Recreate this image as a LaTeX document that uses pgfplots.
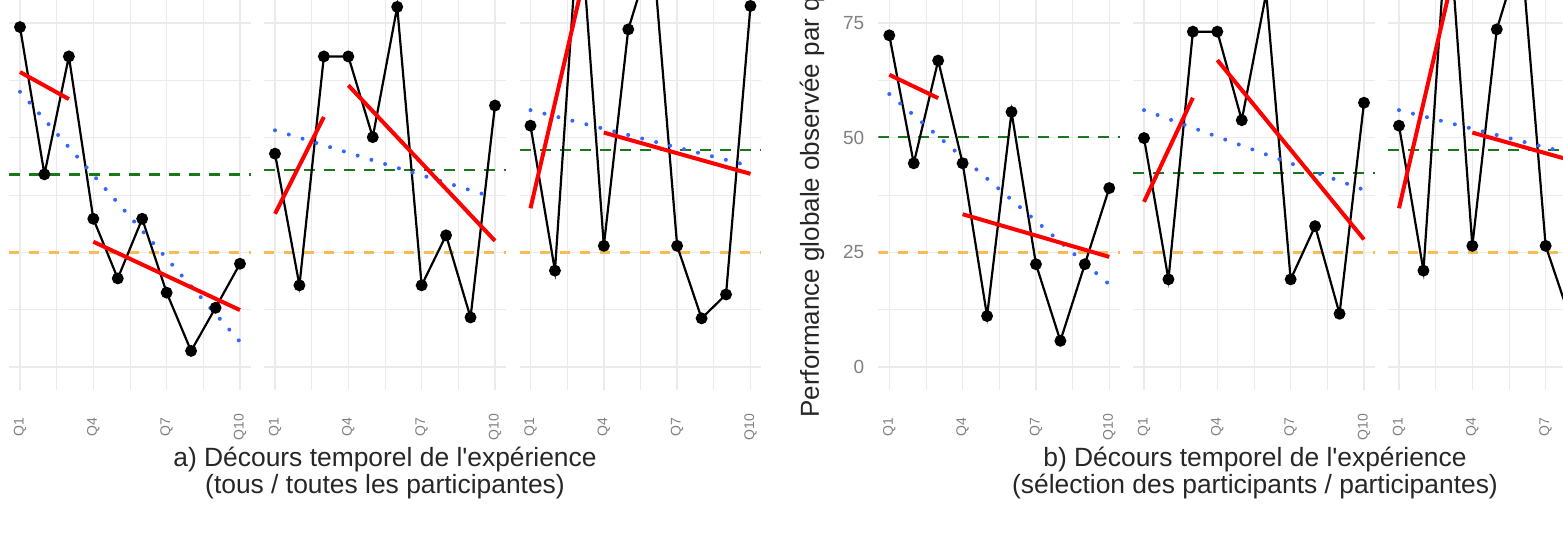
\documentclass[border=0pt]{standalone}
\usepackage{fontspec}
\setmainfont{Liberation Sans}
\usepackage{pgfplots}
\pgfplotsset{compat=1.18}

\definecolor{gridgrey}{RGB}{235,235,235}
\definecolor{ggblue}{RGB}{51,102,255}
\definecolor{hlgreen}{RGB}{25,120,25}
\definecolor{hlorange}{RGB}{248,188,85}
\definecolor{ticktext}{RGB}{128,128,128}

\pgfplotsset{
  panel/.style={
    scale only axis, width=121pt, height=194.95pt, anchor=south west,
    xmin=0.55, xmax=10.45, ymin=-5, ymax=80,
    axis line style={draw=none},
    major tick length=0pt, minor tick length=0pt,
    xtick={1,4,7,10}, xticklabels={Q1,Q4,Q7,Q10},
    minor xtick={2.5,5.5,8.5},
    ytick={0,25,50,75}, minor ytick={12.5,37.5,62.5},
    grid=both,
    major grid style={gridgrey, line width=0.7pt},
    minor grid style={gridgrey, line width=0.4pt},
    xticklabel style={font=\fontsize{7}{8}\selectfont, text=ticktext, rotate=90, anchor=center},
    xticklabel shift=18.5pt,
    yticklabel style={font=\fontsize{9.5}{11}\selectfont, text=ticktext},
    yticklabel shift=3.5pt,
    /pgf/number format/assume math mode=true,
    clip=true,
  },
  noy/.style={yticklabels={}},
  obs/.style={black, line width=1.1pt, mark=*, mark size=2.4pt},
  fit/.style={red, line width=2pt, no marks},
  trend/.style={ggblue, line width=2pt, line cap=round, dash pattern=on 0pt off 7.2pt, no marks},
  ref/.style={hlgreen, line width=1.2pt, dash pattern=on 5.5pt off 4.5pt, no marks},
  chance/.style={hlorange, line width=1.6pt, dash pattern=on 5pt off 5pt, no marks},
}

\begin{document}
\begin{tikzpicture}
\begin{scope}
\clip (0,0) rectangle (781.5pt,270pt);

% ---- a) all participants (y labels lie outside the crop) ----
\begin{axis}[panel, noy, at={(4.5pt,75.05pt)}]
  \addplot[chance] coordinates {(0.55,25) (10.45,25)};
  \addplot[ref] coordinates {(0.55,42.0) (10.45,42.0)};
  \addplot[obs] coordinates {(1,74.1) (2,42.0) (3,67.7) (4,32.3) (5,19.3) (6,32.3) (7,16.2) (8,3.5) (9,12.9) (10,22.5)};
  \addplot[trend] coordinates {(1,60.0) (10,5.5)};
  \addplot[fit] coordinates {(1,64.3) (3,58.4)};
  \addplot[fit] coordinates {(4,27.3) (10,12.4)};
\end{axis}

\begin{axis}[panel, noy, at={(132pt,75.05pt)}]
  \addplot[chance] coordinates {(0.55,25) (10.45,25)};
  \addplot[ref] coordinates {(0.55,42.9) (10.45,42.9)};
  \addplot[obs] coordinates {(1,46.5) (2,17.8) (3,67.7) (4,67.7) (5,50.1) (6,78.5) (7,17.8) (8,28.7) (9,10.8) (10,57.0)};
  \addplot[trend] coordinates {(1,51.6) (10,36.9)};
  \addplot[fit] coordinates {(1,33.4) (3,54.5)};
  \addplot[fit] coordinates {(4,61.4) (10,27.5)};
\end{axis}

\begin{axis}[panel, noy, at={(259.75pt,75.05pt)}]
  \addplot[chance] coordinates {(0.55,25) (10.45,25)};
  \addplot[ref] coordinates {(0.55,47.3) (10.45,47.3)};
  \addplot[obs] coordinates {(1,52.6) (2,21.0) (3,100) (4,26.4) (5,73.6) (6,91) (7,26.4) (8,10.6) (9,15.8) (10,78.7)};
  \addplot[trend] coordinates {(1,56.0) (10,43.8)};
  \addplot[fit] coordinates {(1,34.6) (3,80.5)};
  \addplot[fit] coordinates {(4,51.1) (10,42.1)};
\end{axis}

% ---- b) selected participants ----
\begin{axis}[panel, at={(439.15pt,75.05pt)}]
  \addplot[chance] coordinates {(0.55,25) (10.45,25)};
  \addplot[ref] coordinates {(0.55,50.1) (10.45,50.1)};
  \addplot[obs] coordinates {(1,72.3) (2,44.4) (3,66.8) (4,44.4) (5,11.1) (6,55.6) (7,22.4) (8,5.7) (9,22.4) (10,39.0)};
  \addplot[trend] coordinates {(1,59.5) (10,18.0)};
  \addplot[fit] coordinates {(1,63.7) (3,58.6)};
  \addplot[fit] coordinates {(4,33.3) (10,24.0)};
\end{axis}

\begin{axis}[panel, noy, at={(566.5pt,75.05pt)}]
  \addplot[chance] coordinates {(0.55,25) (10.45,25)};
  \addplot[ref] coordinates {(0.55,42.3) (10.45,42.3)};
  \addplot[obs] coordinates {(1,49.9) (2,19.1) (3,73.1) (4,73.1) (5,53.8) (6,81.5) (7,19.1) (8,30.7) (9,11.6) (10,57.6)};
  \addplot[trend] coordinates {(1,56.0) (10,38.6)};
  \addplot[fit] coordinates {(1,36.0) (3,58.7)};
  \addplot[fit] coordinates {(4,66.9) (10,27.8)};
\end{axis}

\begin{axis}[panel, noy, at={(694pt,75.05pt)}]
  \addplot[chance] coordinates {(0.55,25) (10.45,25)};
  \addplot[ref] coordinates {(0.55,47.3) (10.45,47.3)};
  \addplot[obs] coordinates {(1,52.6) (2,21.0) (3,100) (4,26.4) (5,73.6) (6,91) (7,26.4) (8,10.6) (9,15.8) (10,78.7)};
  \addplot[trend] coordinates {(1,56.0) (10,43.8)};
  \addplot[fit] coordinates {(1,34.6) (3,80.5)};
  \addplot[fit] coordinates {(4,51.1) (10,42.1)};
\end{axis}

\node[rotate=90, anchor=west, inner sep=0pt, font=\fontsize{13}{15}\selectfont, text=black!85]
  at (406pt,61pt) {Performance globale observée par questionnaire (\%)};

\node[font=\fontsize{13.2}{15}\selectfont, text=black!85] at (192.5pt,40pt) {a) Décours temporel de l\textquotesingle expérience};
\node[font=\fontsize{13.2}{15}\selectfont, text=black!85] at (192.5pt,26.5pt) {(tous / toutes les participantes)};
\node[font=\fontsize{13.2}{15}\selectfont, text=black!85] at (627.5pt,40pt) {b) Décours temporel de l\textquotesingle expérience};
\node[font=\fontsize{13.2}{15}\selectfont, text=black!85] at (627.5pt,26.5pt) {(sélection des participants / participantes)};
\end{scope}
\pgfresetboundingbox
\useasboundingbox (0,0) rectangle (781.5pt,270pt);
\end{tikzpicture}
\end{document}
